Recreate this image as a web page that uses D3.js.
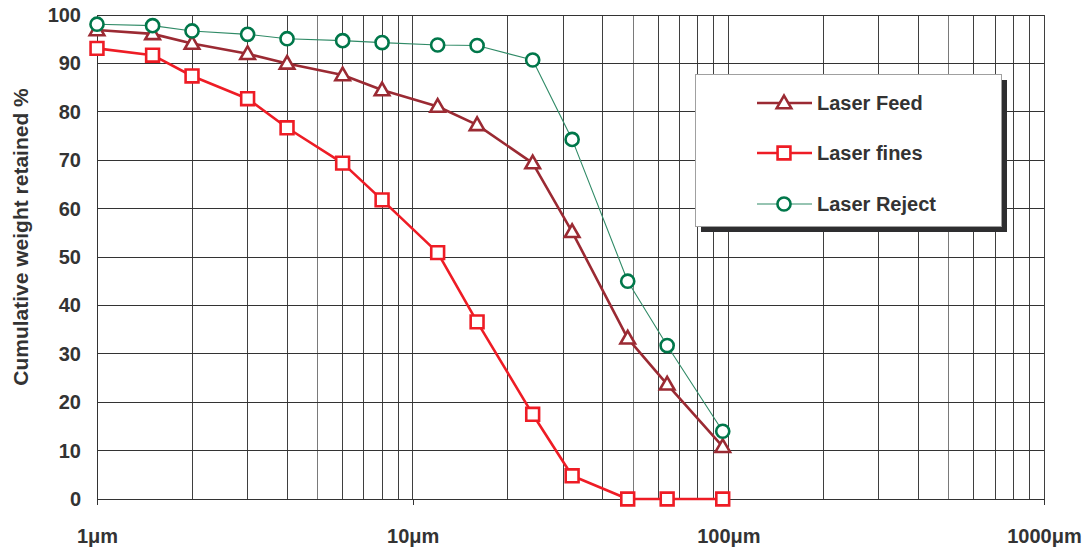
<!DOCTYPE html>
<html>
<head>
<meta charset="utf-8">
<script src="https://cdn.jsdelivr.net/npm/d3@7"></script>
<style>
  html, body { margin: 0; padding: 0; background: #fff; }
  svg { display: block; font-family: "Liberation Sans", Arial, Helvetica, sans-serif; }
</style>
</head>
<body>
<svg id="chart" width="1087" height="550"></svg>
<script>
// Particle sizes (μm) shared by every series
const sizes = [1, 1.5, 2, 3, 4, 6, 8, 12, 16, 24, 32, 48, 64, 96];

// Cumulative weight retained (%) per series
const laserFeed   = [96.9, 96.1, 94.1, 92.0, 90.0, 87.6, 84.5, 81.1, 77.3, 69.4, 55.2, 33.2, 23.7, 10.8];
const laserFines  = [93.1, 91.7, 87.4, 82.7, 76.7, 69.4, 61.8, 50.9, 36.6, 17.5, 4.8, 0, 0, 0];
const laserReject = [98.1, 97.8, 96.7, 96.0, 95.1, 94.7, 94.3, 93.8, 93.7, 90.7, 74.3, 45.0, 31.7, 14.0];

const seriesNames = ["Laser Feed", "Laser fines", "Laser Reject"];

const yTicks = [0, 10, 20, 30, 40, 50, 60, 70, 80, 90, 100];
const xTicks = [1, 10, 100, 1000];
const xTickLabels = ["1μm", "10μm", "100μm", "1000μm"];

const svg = d3.select("#chart");

const x = d3.scaleLog().domain([1, 1000]).range([97, 1044]);
const y = d3.scaleLinear().domain([0, 100]).range([499, 15]);

// Vertical grid: every 1..9 step of each decade
const minor = [];
for (let d = 1; d <= 100; d *= 10) {
  for (let k = 2; k <= 9; k++) minor.push(d * k);
}
const grid = svg.append("g");
grid.selectAll("line.v")
  .data(minor.concat([10, 100, 1000]))
  .join("line")
  .attr("x1", d => x(d)).attr("x2", d => x(d))
  .attr("y1", y(100)).attr("y2", y(0))
  .attr("stroke", d => (String(d).startsWith("5") ? "#7a7a7a" : "#3f3f3f"))
  .attr("stroke-width", 1)
  .attr("shape-rendering", "crispEdges");

grid.selectAll("line.h")
  .data(yTicks)
  .join("line")
  .attr("x1", x(1)).attr("x2", x(1000))
  .attr("y1", d => y(d)).attr("y2", d => y(d))
  .attr("stroke", "#333")
  .attr("stroke-width", 1)
  .attr("shape-rendering", "crispEdges");

// Left axis line
svg.append("line")
  .attr("x1", x(1)).attr("x2", x(1))
  .attr("y1", y(100)).attr("y2", y(0) + 6)
  .attr("stroke", "#333").attr("shape-rendering", "crispEdges");

// X axis: decade ticks hanging below the plot
const xAxis = d3.axisBottom(x)
  .tickValues(xTicks)
  .tickSize(6)
  .tickFormat((d, i) => xTickLabels[i]);
const gx = svg.append("g")
  .attr("transform", `translate(0,${y(0)})`)
  .call(xAxis);
gx.select(".domain").remove();
gx.selectAll(".tick line").attr("stroke", "#333").attr("shape-rendering", "crispEdges");
gx.selectAll(".tick text")
  .attr("y", 30)
  .attr("dy", "0.71em")
  .attr("fill", "#333")
  .attr("font-size", 20)
  .attr("font-weight", "bold")
  .attr("font-family", "'Liberation Sans', Arial, sans-serif");

// Y axis labels
const yAxis = d3.axisLeft(y).tickValues(yTicks).tickSize(0).tickPadding(16);
const gy = svg.append("g")
  .attr("transform", `translate(${x(1)},0)`)
  .call(yAxis);
gy.select(".domain").remove();
gy.selectAll(".tick text")
  .attr("fill", "#333")
  .attr("font-size", 20)
  .attr("font-weight", "bold")
  .attr("font-family", "'Liberation Sans', Arial, sans-serif");

// Y axis title
svg.append("text")
  .attr("transform", `translate(28,${(y(0) + y(100)) / 2 - 20}) rotate(-90)`)
  .attr("text-anchor", "middle")
  .attr("fill", "#333")
  .attr("font-size", 21)
  .attr("font-weight", "bold")
  .text("Cumulative weight retained %");

// Series styling
const series = [
  { name: seriesNames[0], values: laserFeed,   color: "#9b2a33", lineColor: "#9b2a33", width: 2.6, shape: "triangle" },
  { name: seriesNames[1], values: laserFines,  color: "#ee1c25", lineColor: "#ee1c25", width: 2.6, shape: "square" },
  { name: seriesNames[2], values: laserReject, color: "#00774a", lineColor: "#2f8a66", width: 1.1, shape: "circle" }
];

const symbolFor = {
  triangle: d3.symbol().type(d3.symbolTriangle).size(92),
  square:   d3.symbol().type(d3.symbolSquare).size(165),
  circle:   d3.symbol().type(d3.symbolCircle).size(135)
};

const line = d3.line()
  .x(d => x(d[0]))
  .y(d => y(d[1]));

series.forEach(s => {
  const pts = sizes.map((v, i) => [v, s.values[i]]);
  const g = svg.append("g");
  g.append("path")
    .datum(pts)
    .attr("d", line)
    .attr("fill", "none")
    .attr("stroke", s.lineColor)
    .attr("stroke-width", s.width)
    .attr("stroke-linejoin", "round");
  g.selectAll("path.m")
    .data(pts)
    .join("path")
    .attr("class", "m")
    .attr("transform", d => `translate(${x(d[0])},${y(d[1]) + (s.shape === "triangle" ? 1 : 0)})`)
    .attr("d", symbolFor[s.shape])
    .attr("fill", "#fff")
    .attr("stroke", s.color)
    .attr("stroke-width", 2.6);
});

// Legend with drop shadow
const lg = svg.append("g").attr("transform", "translate(695,74)");
lg.append("rect")
  .attr("x", 6).attr("y", 6)
  .attr("width", 306).attr("height", 152)
  .attr("fill", "#2e2e30");
lg.append("rect")
  .attr("x", 0).attr("y", 0)
  .attr("width", 306).attr("height", 152)
  .attr("fill", "#fff")
  .attr("stroke", "#a0a0a0")
  .attr("stroke-width", 1)
  .attr("shape-rendering", "crispEdges");

const legendY = [29, 79, 130];
series.forEach((s, i) => {
  const row = lg.append("g").attr("transform", `translate(0,${legendY[i]})`);
  row.append("line")
    .attr("x1", 62).attr("x2", 117)
    .attr("stroke", s.lineColor)
    .attr("stroke-width", s.width);
  row.append("path")
    .attr("transform", `translate(89,${s.shape === "triangle" ? 1 : 0})`)
    .attr("d", symbolFor[s.shape])
    .attr("fill", "#fff")
    .attr("stroke", s.color)
    .attr("stroke-width", 2.6);
  row.append("text")
    .attr("x", 122)
    .attr("dy", "0.36em")
    .attr("fill", "#333")
    .attr("font-size", 20)
    .attr("font-weight", "bold")
    .text(s.name);
});
</script>
</body>
</html>
